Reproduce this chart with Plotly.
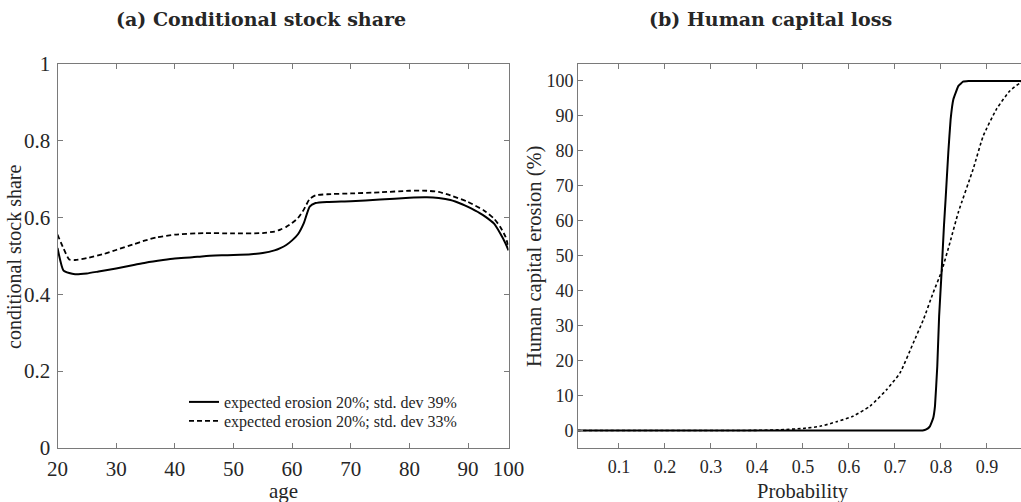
import plotly.graph_objects as go

# ---- Panel (a): conditional stock share by age ----
# (ages read against the drawn tick marks; the last tick of the original axis is labelled "100")
age_solid = [20, 21, 22, 23, 25, 27, 30, 33, 35, 38, 40, 43, 45, 48, 50, 53, 55, 57, 58, 59, 60, 61, 62, 63, 64, 66, 70, 75, 80, 83, 85, 87, 89, 90, 92, 93, 94.4, 95.5, 96.4, 96.9]
share_solid = [0.520, 0.462, 0.455, 0.452, 0.454, 0.459, 0.467, 0.476, 0.482, 0.489, 0.493, 0.496, 0.499, 0.501, 0.502, 0.504, 0.507, 0.514, 0.520, 0.528, 0.540, 0.556, 0.585, 0.628, 0.637, 0.640, 0.642, 0.646, 0.651, 0.652, 0.650, 0.645, 0.634, 0.627, 0.611, 0.601, 0.584, 0.558, 0.532, 0.514]

age_dash = [20, 21, 22, 23, 25, 28, 30, 33, 35, 37, 40, 45, 50, 55, 57, 58, 59, 60, 61, 62, 63, 64, 66, 70, 75, 80, 83, 85, 87, 90, 92.7, 94.4, 95.5, 96.4, 96.9]
share_dash = [0.555, 0.520, 0.490, 0.489, 0.494, 0.505, 0.515, 0.530, 0.540, 0.548, 0.555, 0.559, 0.558, 0.559, 0.563, 0.568, 0.575, 0.585, 0.598, 0.620, 0.648, 0.657, 0.660, 0.662, 0.665, 0.669, 0.669, 0.666, 0.657, 0.640, 0.618, 0.597, 0.575, 0.549, 0.523]

legend_solid = "expected erosion 20%; std. dev 39%"
legend_dash = "expected erosion 20%; std. dev 33%"

# ---- Panel (b): human capital erosion vs probability ----
prob_solid = [0.01, 0.50, 0.70, 0.76, 0.768, 0.776, 0.783, 0.787, 0.792, 0.796, 0.8015, 0.8065, 0.81, 0.816, 0.821, 0.827, 0.838, 0.848, 0.86, 0.90, 0.99]
erosion_solid = [0, 0, 0, 0, 0.3, 1.2, 3.5, 7, 18.4, 32.7, 45.6, 58.5, 66, 79.6, 89, 94.8, 98.6, 99.8, 100, 100, 100]

prob_dash = [0.01, 0.35, 0.40, 0.45, 0.50, 0.537, 0.573, 0.609, 0.646, 0.682, 0.711, 0.740, 0.762, 0.783, 0.8015, 0.8196, 0.8377, 0.87, 0.892, 0.921, 0.95, 0.972, 0.99]
erosion_dash = [0, 0, 0.05, 0.2, 0.6, 1.2, 2.5, 4.1, 7.0, 11.7, 16.5, 25.1, 31.8, 39.4, 45.6, 53.8, 62.4, 74.8, 84.3, 92, 97.2, 99.4, 100]

a_xticks = [20, 30, 40, 50, 60, 70, 80, 90, 96.9]
a_xticklabels = ["20", "30", "40", "50", "60", "70", "80", "90", "100"]
a_yticks = [0, 0.2, 0.4, 0.6, 0.8, 1]
a_yticklabels = ["0", "0.2", "0.4", "0.6", "0.8", "1"]
b_xticks = [0.1, 0.2, 0.3, 0.4, 0.5, 0.6, 0.7, 0.8, 0.9]
b_yticks = [0, 10, 20, 30, 40, 50, 60, 70, 80, 90, 100]

SERIF = "Liberation Serif"
GRAY = "#7a7a7a"
TXT = "#262626"

fig = go.Figure()
fig.add_trace(go.Scatter(x=age_solid, y=share_solid, mode="lines", name=legend_solid,
                         line=dict(color="black", width=2, shape="spline", smoothing=0.5),
                         xaxis="x", yaxis="y", legend="legend"))
fig.add_trace(go.Scatter(x=age_dash, y=share_dash, mode="lines", name=legend_dash,
                         line=dict(color="black", width=1.8, dash="5px,3px", shape="spline", smoothing=0.5),
                         xaxis="x", yaxis="y", legend="legend2"))
fig.add_trace(go.Scatter(x=prob_solid, y=erosion_solid, mode="lines", showlegend=False,
                         line=dict(color="black", width=2, shape="spline", smoothing=0.3),
                         xaxis="x2", yaxis="y2"))
fig.add_trace(go.Scatter(x=prob_dash, y=erosion_dash, mode="lines", showlegend=False,
                         line=dict(color="black", width=1.6, dash="3px,2.5px", shape="spline", smoothing=0.5),
                         xaxis="x2", yaxis="y2"))

ax_common = dict(showgrid=False, zeroline=False, showline=True, linecolor=GRAY, linewidth=1,
                 ticks="inside", ticklen=5, tickcolor=GRAY, tickwidth=1, automargin=False)

y0, y1 = 1 - 448 / 502, 1 - 63.5 / 502

leg_common = dict(xanchor="left", yanchor="middle", bgcolor="rgba(0,0,0,0)", borderwidth=0,
                  font=dict(size=16, family=SERIF, color=TXT), itemwidth=30)


def ann(text, x, y, size, angle=0, family=SERIF):
    return dict(text=text, x=x / 1021, y=1 - y / 502, xref="paper", yref="paper",
                xanchor="center", yanchor="middle", textangle=angle, showarrow=False,
                font=dict(size=size, family=family, color=TXT))


fig.update_layout(
    width=1021, height=502,
    margin=dict(l=0, r=0, t=0, b=0),
    paper_bgcolor="white", plot_bgcolor="white",
    font=dict(family=SERIF, color=TXT),
    xaxis=dict(domain=[57.5 / 1021, 508.5 / 1021], range=[20, 96.9], tickvals=a_xticks, ticktext=a_xticklabels,
               mirror="ticks", tickfont=dict(size=21, family=SERIF, color=TXT), anchor="y",
               ticklabelstandoff=2, **ax_common),
    yaxis=dict(domain=[y0, y1], range=[0, 1], tickvals=a_yticks, ticktext=a_yticklabels,
               mirror="ticks", tickfont=dict(size=21, family=SERIF, color=TXT), anchor="x",
               ticklabelstandoff=2, **ax_common),
    xaxis2=dict(domain=[578 / 1021, 1.0], range=[0.011, 0.974], tickvals=b_xticks,
                mirror="ticks", tickfont=dict(size=18, family=SERIF, color=TXT), anchor="y2",
                ticklabelstandoff=2, **ax_common),
    yaxis2=dict(domain=[y0, y1], range=[-5, 105], tickvals=b_yticks,
                mirror=False, tickfont=dict(size=18, family=SERIF, color=TXT), anchor="x2", **ax_common),
    showlegend=True,
    legend=dict(x=184 / 1021, y=1 - 402 / 502, **leg_common),
    legend2=dict(x=184 / 1021, y=1 - 421 / 502, **leg_common),
    annotations=[
        ann("<b>(a) Conditional stock share</b>", 261, 19, 19, family="DejaVu Serif"),
        ann("<b>(b) Human capital loss</b>", 770, 19, 19, family="DejaVu Serif"),
        ann("conditional stock share", 14, 257, 20, angle=-90),
        ann("age", 283, 491, 21),
        ann("Human capital erosion (%)", 534, 257, 20.5, angle=-90),
        ann("Probability", 803, 491, 20.5),
    ],
)

fig.write_html("out.html")
